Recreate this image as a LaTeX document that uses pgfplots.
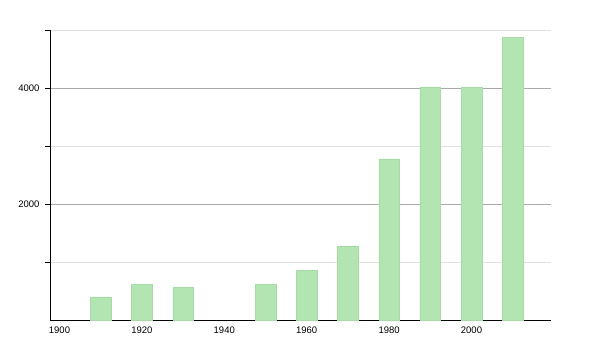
\documentclass[border=0pt]{standalone}
\usepackage{pgfplots}
\pgfplotsset{compat=1.18}
\usepackage{fontspec}
\setmainfont{Liberation Sans}
\definecolor{barfill}{HTML}{B3E5B3}
\definecolor{baredge}{HTML}{A6DBA6}
\definecolor{majgrid}{HTML}{AAAAAA}
\definecolor{mingrid}{HTML}{E2E2E2}
\begin{document}
\begin{tikzpicture}[x=1pt,y=1pt]
\useasboundingbox (-50,-30) rectangle (550,320);
\begin{axis}[
  at={(0,0)}, anchor=south west,
  scale only axis, width=501pt, height=290pt,
  xmin=1897.7, xmax=2019.3,
  ymin=0, ymax=5000,
  axis x line=bottom, axis y line=left,
  axis line style={black, line width=0.8pt, -},
  xtick={1900,1920,1940,1960,1980,2000},
  x tick style={draw=none},
  ytick={2000,4000},
  minor ytick={1000,3000,5000},
  y tick style={black, line width=0.6pt},
  tick align=outside,
  major tick length=5pt, minor tick length=5pt,
  ymajorgrids, yminorgrids,
  major grid style={majgrid, line width=0.6pt},
  minor grid style={mingrid, line width=0.6pt},
  tick label style={font=\fontsize{9.5}{11}\selectfont},
  /pgf/number format/assume math mode=true,
  /pgf/number format/1000 sep={},
  xticklabel style={yshift=2pt},
  yticklabel style={xshift=-2pt},
  scaled y ticks=false,
  axis on top=false,
  clip=false,
]
\addplot[ybar, bar width=5, fill=barfill, draw=baredge, line width=0.4pt] coordinates {
  (1910,400) (1920,620) (1930,560) (1950,620) (1960,860)
  (1970,1280) (1980,2780) (1990,4020) (2000,4010) (2010,4870)
};
\end{axis}
\end{tikzpicture}
\end{document}
